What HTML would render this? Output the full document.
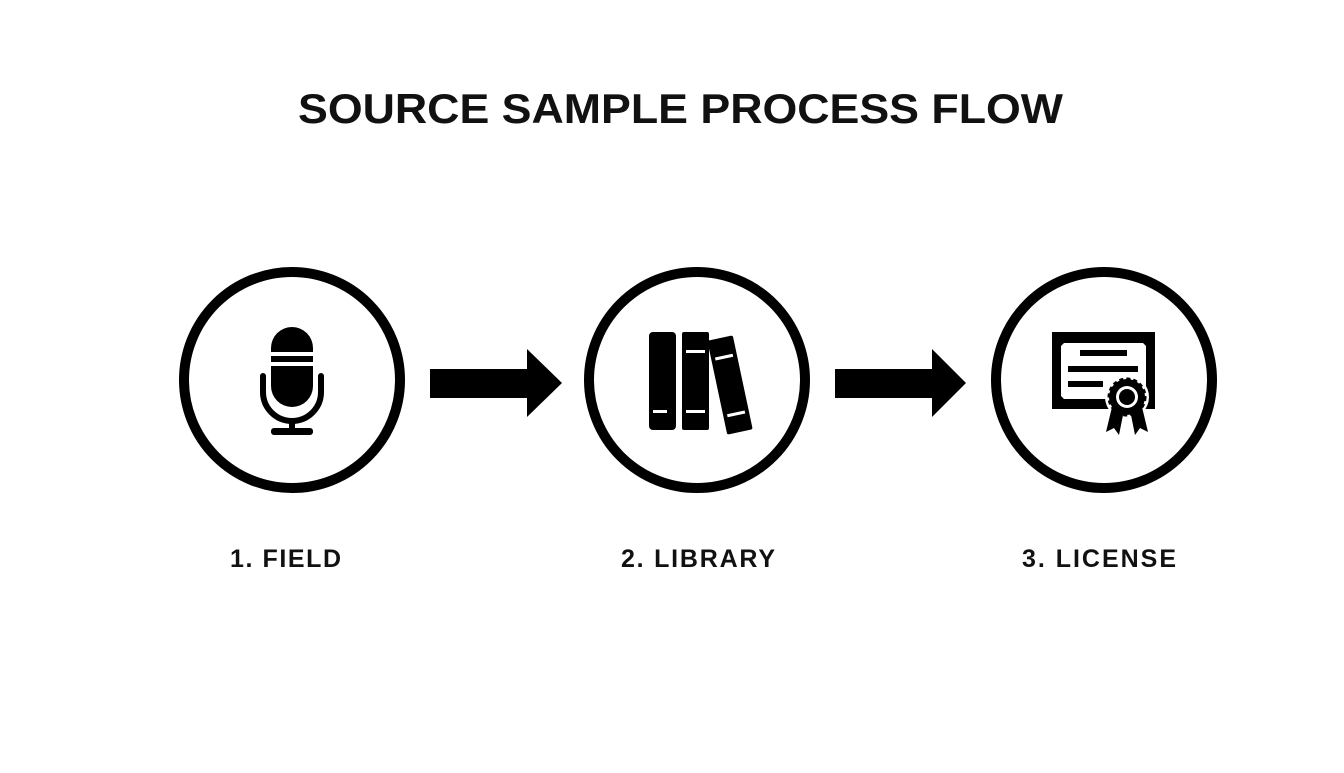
<!DOCTYPE html>
<html><head><style>
body{margin:0;width:1344px;height:768px;background:#fff;overflow:hidden;font-family:"Liberation Sans",Arial,sans-serif}
</style></head><body>
<svg width="1344" height="768" xmlns="http://www.w3.org/2000/svg">
<text x="298" y="123" textLength="765" lengthAdjust="spacingAndGlyphs" font-family="Liberation Sans,Arial,sans-serif" font-weight="bold" font-size="42" fill="#111">SOURCE SAMPLE PROCESS FLOW</text>
<g fill="none" stroke="#000" stroke-width="10">
<circle cx="292" cy="380" r="108"/>
<circle cx="697" cy="380" r="108"/>
<circle cx="1104" cy="380" r="108"/>
</g>
<polygon points="430,369 527,369 527,349 562,383 527,417 527,398 430,398" fill="#000"/>
<polygon points="835,369 932,369 932,349 966,383 932,417 932,398 835,398" fill="#000"/>
<!-- mic -->
<rect x="271" y="327" width="42" height="80" rx="21" fill="#000"/>
<rect x="268" y="352" width="48" height="4" fill="#fff"/>
<rect x="268" y="362" width="48" height="4" fill="#fff"/>
<path d="M263,376 V392 A29,29 0 0 0 321,392 V376" fill="none" stroke="#000" stroke-width="6" stroke-linecap="round"/>
<rect x="289" y="418" width="6" height="12" fill="#000"/>
<rect x="271" y="428" width="42" height="7" rx="3" fill="#000"/>
<!-- books -->
<rect x="649" y="332" width="27" height="98" rx="4" fill="#000"/>
<rect x="653" y="410" width="14" height="3" fill="#fff"/>
<rect x="682" y="332" width="27" height="98" rx="2" fill="#000"/>
<rect x="686" y="350" width="19" height="3" fill="#fff"/>
<rect x="686" y="410" width="19" height="3" fill="#fff"/>
<g transform="rotate(-12 730 385)">
<rect x="717" y="337" width="26" height="96" rx="2" fill="#000"/>
<rect x="721" y="355" width="18" height="3" fill="#fff"/>
<rect x="721" y="413" width="18" height="3" fill="#fff"/>
</g>
<!-- certificate -->
<rect x="1052" y="332" width="103" height="77" fill="#000"/>
<path d="M1064,343 H1143 L1146,346 V396 L1143,399 H1064 L1061,396 V346 Z" fill="#fff"/>
<rect x="1080" y="350" width="47" height="6" fill="#000"/>
<rect x="1068" y="366" width="70" height="6" fill="#000"/>
<rect x="1068" y="381" width="35" height="6" fill="#000"/>
<circle cx="1127" cy="397" r="22" fill="#fff"/>
<polygon points="1112,407 1106,432 1114,428 1119,435 1124,410" fill="#000"/>
<polygon points="1130,410 1135,435 1140,428 1148,432 1142,407" fill="#000"/>
<circle cx="1127" cy="397" r="18" fill="#000" stroke="#000" stroke-width="3" stroke-dasharray="4 3"/>
<circle cx="1127" cy="397" r="11" fill="#fff"/>
<circle cx="1127" cy="397" r="8" fill="#000"/>
<g font-family="Liberation Sans,Arial,sans-serif" font-weight="bold" font-size="25" fill="#111" lengthAdjust="spacingAndGlyphs">
<text x="230" y="567" textLength="111">1. FIELD</text>
<text x="621" y="567" textLength="154">2. LIBRARY</text>
<text x="1022" y="567" textLength="154">3. LICENSE</text>
</g>
</svg>
</body></html>
